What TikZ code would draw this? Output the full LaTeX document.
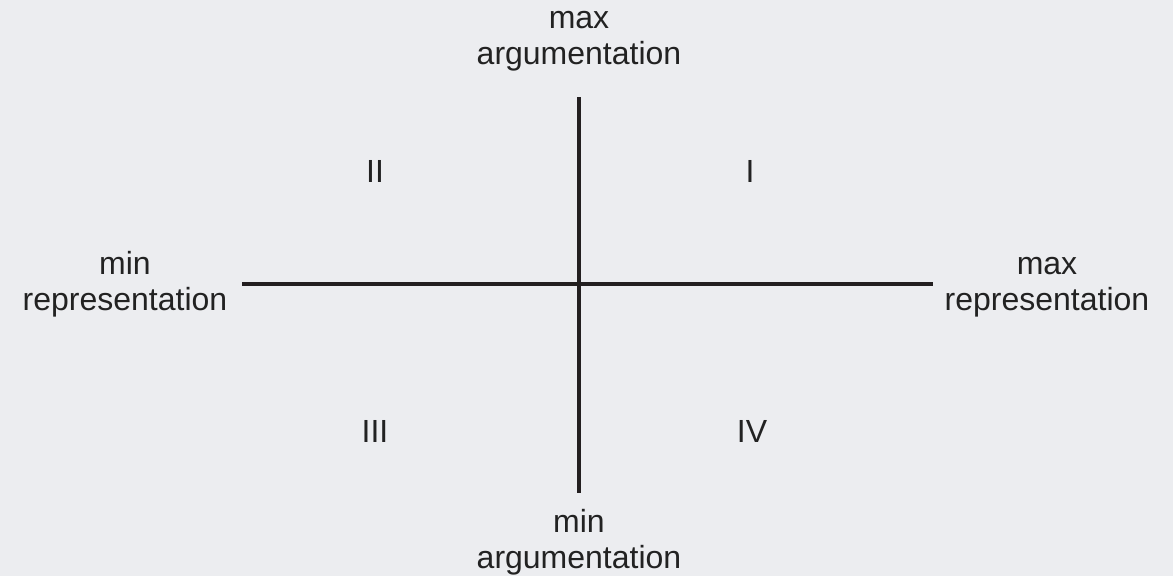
\documentclass[tikz,border=0pt]{standalone}
\usepackage{fontspec}
\setmainfont{Liberation Sans}
\definecolor{bg}{HTML}{ECEDF0}
\definecolor{axis}{HTML}{231F20}
\definecolor{txt}{HTML}{222222}
\begin{document}
\begin{tikzpicture}[x=1pt,y=-1pt,
  axisline/.style={draw=axis,line width=4pt},
  lbl/.style={text=txt,font=\fontsize{32}{36}\selectfont,align=center,inner sep=0pt,anchor=base},
  quad/.style={text=txt,font=\fontsize{32}{36}\selectfont,inner sep=0pt,anchor=base}]
\fill[bg] (0,0) rectangle (1173,576);
\useasboundingbox (0,0) rectangle (1173,576);
\coordinate (top) at (579,97);
\coordinate (bottom) at (579,493);
\coordinate (left) at (242,284);
\coordinate (right) at (933,284);
\draw[axisline] (top) -- (bottom);
\draw[axisline] (left) -- (right);
\node[lbl] (ltop) at (579,64) {max\\argumentation};
\node[lbl] (lbottom) at (579,568) {min\\argumentation};
\node[lbl] (lleft) at (125,310) {min\\representation};
\node[lbl] (lright) at (1047,310) {max\\representation};
\node[quad] (q1) at (750,182) {I};
\node[quad] (q2) at (375,182) {II};
\node[quad] (q3) at (375,442) {III};
\node[quad] (q4) at (752,442) {IV};
\end{tikzpicture}
\end{document}
